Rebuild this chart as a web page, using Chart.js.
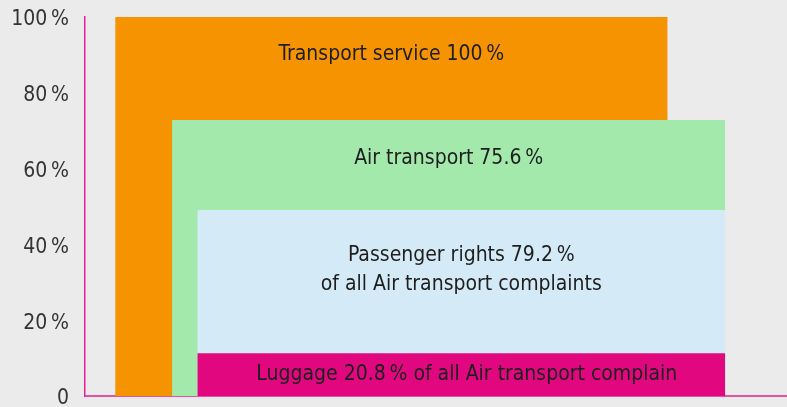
<!DOCTYPE html>
<html>
<head>
<meta charset="utf-8">
<script src="https://cdn.jsdelivr.net/npm/chart.js@4"></script>
<style>
  html, body { margin: 0; padding: 0; background: #ebebeb; }
  .chartWrapper { width: 787px; height: 407px; }
</style>
</head>
<body>
<div class="chartWrapper"><canvas id="NestedShares"></canvas></div>
<script>
// share of complaints (height of each block, % of all)
const blockNames = ['Transport service', 'Air transport', 'Passenger rights', 'Luggage']
const blockHeights = [100, 72.8, 49.1, 11.3]
// horizontal extent of each block on a 0..100 x scale
const blockStart = [4.3, 12.4, 16.0, 16.0]
const blockEnd = [83.0, 91.2, 91.2, 91.2]
const blockColors = ['#f59300', '#a2e9ab', '#d5eaf7', '#e0077f']
const blockLabels = [
    ['Transport service 100\u2009%'],
    ['Air transport 75.6\u2009%'],
    ['Passenger rights 79.2\u2009%', 'of all Air transport complaints'],
    ['Luggage 20.8\u2009% of all Air transport complain']
]
const yTicks = [0, 20, 40, 60, 80, 100]

const FONT = '"Liberation Sans Narrow", "DejaVu Sans Condensed", sans-serif'

const bgPlugin = {
    id: 'bg',
    beforeDraw(chart) {
        const ctx = chart.ctx
        ctx.save()
        ctx.fillStyle = '#ebebeb'
        ctx.fillRect(0, 0, chart.width, chart.height)
        ctx.restore()
    }
}

const labelPlugin = {
    id: 'blockLabels',
    afterDatasetsDraw(chart) {
        const ctx = chart.ctx
        const x = chart.scales.x
        const y = chart.scales.y
        ctx.save()
        ctx.font = '21px ' + FONT
        ctx.fillStyle = '#1e1e1e'
        ctx.textBaseline = 'middle'
        blockLabels.forEach((lines, i) => {
            const left = x.getPixelForValue(blockStart[i])
            const right = x.getPixelForValue(blockEnd[i])
            const top = y.getPixelForValue(blockHeights[i])
            if (i == 3) {
                // luggage label sits left aligned and is clipped by its block
                const bottom = y.getPixelForValue(0)
                ctx.save()
                ctx.beginPath()
                ctx.rect(left, top, right - left, bottom - top)
                ctx.clip()
                ctx.textAlign = 'left'
                ctx.fillText(lines[0], left + 59, (top + bottom) / 2)
                ctx.restore()
                return
            }
            ctx.textAlign = 'center'
            const cx = (left + right) / 2
            const startY = i == 2 ? top + 46 : top + 38
            lines.forEach((line, j) => ctx.fillText(line, cx, startY + j * 29))
        })
        ctx.restore()
    }
}

const datasets = blockNames.map((name, i) => ({
    label: name,
    data: [{x: blockStart[i], y: blockHeights[i]}, {x: blockEnd[i], y: blockHeights[i]}],
    fill: 'origin',
    backgroundColor: blockColors[i],
    borderWidth: 0,
    pointRadius: 0,
    order: blockNames.length - i,
}))

const ctx = document.getElementById('NestedShares')
new Chart(ctx, {
    type: 'line',
    data: { datasets: datasets },
    plugins: [bgPlugin, labelPlugin],
    options: {
        responsive: true,
        maintainAspectRatio: false,
        animation: false,
        layout: { padding: { top: 17, right: 0, bottom: 11, left: 0 } },
        plugins: {
            legend: { display: false },
            tooltip: { enabled: false },
        },
        scales: {
            x: {
                type: 'linear',
                min: 0,
                max: 100,
                ticks: { display: false },
                grid: { display: false, drawTicks: false },
                border: { display: true, color: '#e452a2', width: 2 },
                afterFit: (scale) => { scale.height = 0 },
            },
            y: {
                min: 0,
                max: 100,
                afterBuildTicks: (scale) => { scale.ticks = yTicks.map(v => ({value: v})) },
                ticks: {
                    padding: 16,
                    labelOffset: 3,
                    autoSkip: false,
                    color: '#333',
                    font: { family: FONT, size: 21 },
                    callback: (v) => v == 0 ? '0' : v + '\u2009%',
                },
                grid: { display: false, drawTicks: false },
                border: { display: true, color: '#ee1c9c', width: 1.5 },
                afterFit: (scale) => {
                    scale.width = 85
                    // keep the tick labels from pushing the plot area in
                    scale.paddingTop = 0
                    scale.paddingBottom = 0
                },
            }
        }
    }
})
</script>
</body>
</html>
